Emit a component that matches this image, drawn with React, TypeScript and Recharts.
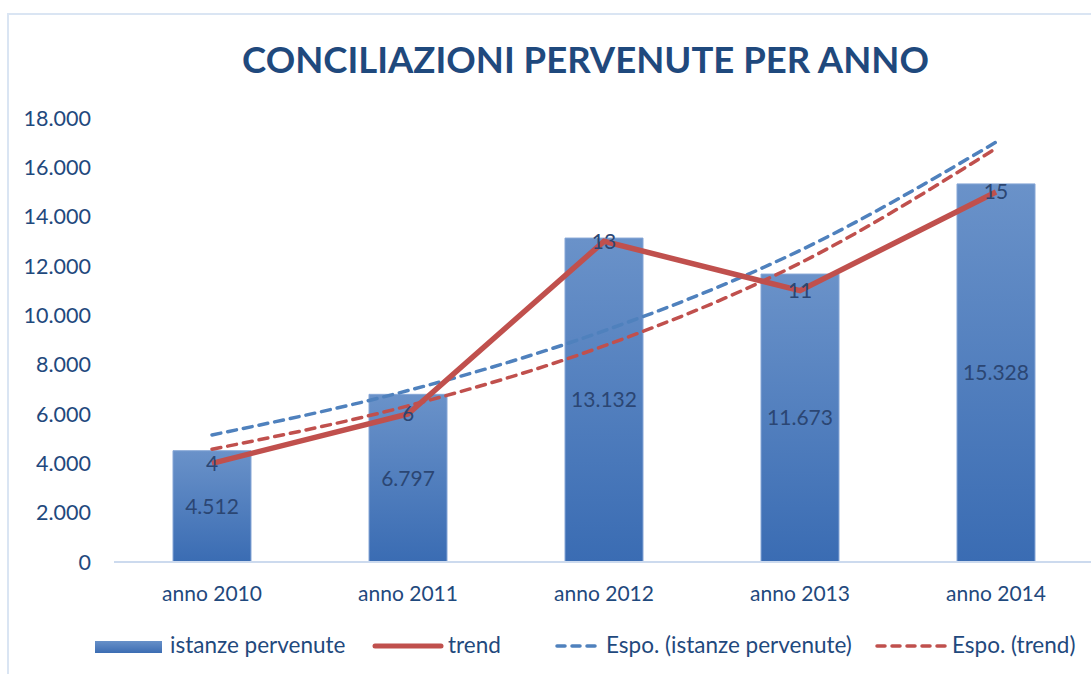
import { ComposedChart, Bar, Line, XAxis, YAxis, LabelList } from "recharts";

const years = ["anno 2010", "anno 2011", "anno 2012", "anno 2013", "anno 2014"];
const istanze = [4512, 6797, 13132, 11673, 15328];
const trend = [4000, 6000, 13000, 11000, 15000];
const espoIstanze = [5150, 6950, 9370, 12630, 17020];
const espoTrend = [4570, 6330, 8760, 12120, 16770];
const yTicks = [0, 2000, 4000, 6000, 8000, 10000, 12000, 14000, 16000, 18000];

const rows = years.map((anno, i) => ({
  anno,
  istanze: istanze[i],
  trend: trend[i],
  espoIstanze: espoIstanze[i],
  espoTrend: espoTrend[i],
}));

const BLUE = "#4F81BD";
const RED = "#C0504D";
const TEXT = "#1F497D";
const FONT = "Lato, 'Open Sans', sans-serif";

// Italian thousands separator: 18000 -> "18.000"
const itNum = (v: number) => String(Math.round(v)).replace(/\B(?=(\d{3})+(?!\d))/g, ".");

function LegendRow() {
  const text = { position: "absolute" as const, top: 631, fontSize: 22.5, color: TEXT, fontFamily: FONT, whiteSpace: "nowrap" as const };
  return (
    <>
      <svg style={{ position: "absolute", left: 0, top: 630 }} width={1091} height={32}>
        <defs>
          <linearGradient id="legBar" x1="0" y1="0" x2="0" y2="1">
            <stop offset="0%" stopColor="#6790C8" />
            <stop offset="100%" stopColor="#3C6DB3" />
          </linearGradient>
        </defs>
        <rect x={95} y={11} width={67} height={12} fill="url(#legBar)" />
        <line x1={375} y1={16} x2={441} y2={16} stroke={RED} strokeWidth={5} strokeLinecap="round" />
        <line x1={557} y1={16} x2={600} y2={16} stroke={BLUE} strokeWidth={3.5} strokeDasharray="8 7" strokeLinecap="round" />
        <line x1={877} y1={16} x2={946} y2={16} stroke={RED} strokeWidth={3.5} strokeDasharray="8 7" strokeLinecap="round" />
      </svg>
      <div style={{ ...text, left: 170 }}>istanze pervenute</div>
      <div style={{ ...text, left: 448 }}>trend</div>
      <div style={{ ...text, left: 606 }}>Espo. (istanze pervenute)</div>
      <div style={{ ...text, left: 952 }}>Espo. (trend)</div>
    </>
  );
}

export default function App() {
  return (
    <div style={{ position: "absolute", left: 0, top: 0, width: 1091, height: 674, overflow: "hidden", background: "#fff" }}>
      <div style={{ position: "absolute", left: 7, top: 13, width: 1200, height: 800, border: "2px solid #DAE5F3" }} />
      <div
        style={{
          position: "absolute",
          left: 0,
          top: 37,
          width: 1171,
          textAlign: "center",
          fontFamily: FONT,
          fontWeight: 700,
          fontSize: 36.5,
          color: TEXT,
        }}
      >
        CONCILIAZIONI PERVENUTE PER ANNO
      </div>
      <div style={{ position: "absolute", left: 0, top: 0 }}>
        <ComposedChart
          width={1100}
          height={674}
          data={rows}
          margin={{ top: 118, right: 6, bottom: 0, left: 0 }}
          style={{ fontFamily: FONT }}
        >
          <defs>
            <linearGradient id="barFill" x1="0" y1="0" x2="0" y2="1">
              <stop offset="0%" stopColor="#6A92C9" />
              <stop offset="100%" stopColor="#3A6CB3" />
            </linearGradient>
          </defs>
          <XAxis
            dataKey="anno"
            height={112}
            tickSize={0}
            tickMargin={24}
            axisLine={{ stroke: "#CCDAEE", strokeWidth: 2 }}
            tickLine={false}
            tick={{ fill: TEXT, fontSize: 21, fontFamily: FONT }}
          />
          <YAxis
            width={114}
            domain={[0, 18000]}
            ticks={yTicks}
            tickFormatter={itNum}
            tickSize={0}
            tickMargin={23}
            axisLine={false}
            tickLine={false}
            tick={{ fill: TEXT, fontSize: 21.5, fontFamily: FONT }}
          />
          <Bar dataKey="istanze" barSize={78} fill="url(#barFill)" stroke="#86A6D6" strokeWidth={1} isAnimationActive={false}>
            <LabelList dataKey="istanze" position="center" formatter={(v: number) => itNum(v)} fill="#2B4673" fontSize={21} fontFamily={FONT} />
          </Bar>
          <Line
            dataKey="espoIstanze"
            type="monotone"
            stroke={BLUE}
            strokeWidth={3.5}
            strokeDasharray="9 7"
            strokeLinecap="round"
            dot={false}
            activeDot={false}
            isAnimationActive={false}
          />
          <Line
            dataKey="espoTrend"
            type="monotone"
            stroke={RED}
            strokeWidth={3.5}
            strokeDasharray="9 7"
            strokeLinecap="round"
            dot={false}
            activeDot={false}
            isAnimationActive={false}
          />
          <Line
            dataKey="trend"
            type="linear"
            stroke={RED}
            strokeWidth={5.5}
            dot={false}
            activeDot={false}
            isAnimationActive={false}
          >
            <LabelList dataKey="trend" position="center" formatter={(v: number) => String(v / 1000)} fill="#2B4673" fontSize={21} fontFamily={FONT} />
          </Line>
        </ComposedChart>
      </div>
      <LegendRow />
    </div>
  );
}
